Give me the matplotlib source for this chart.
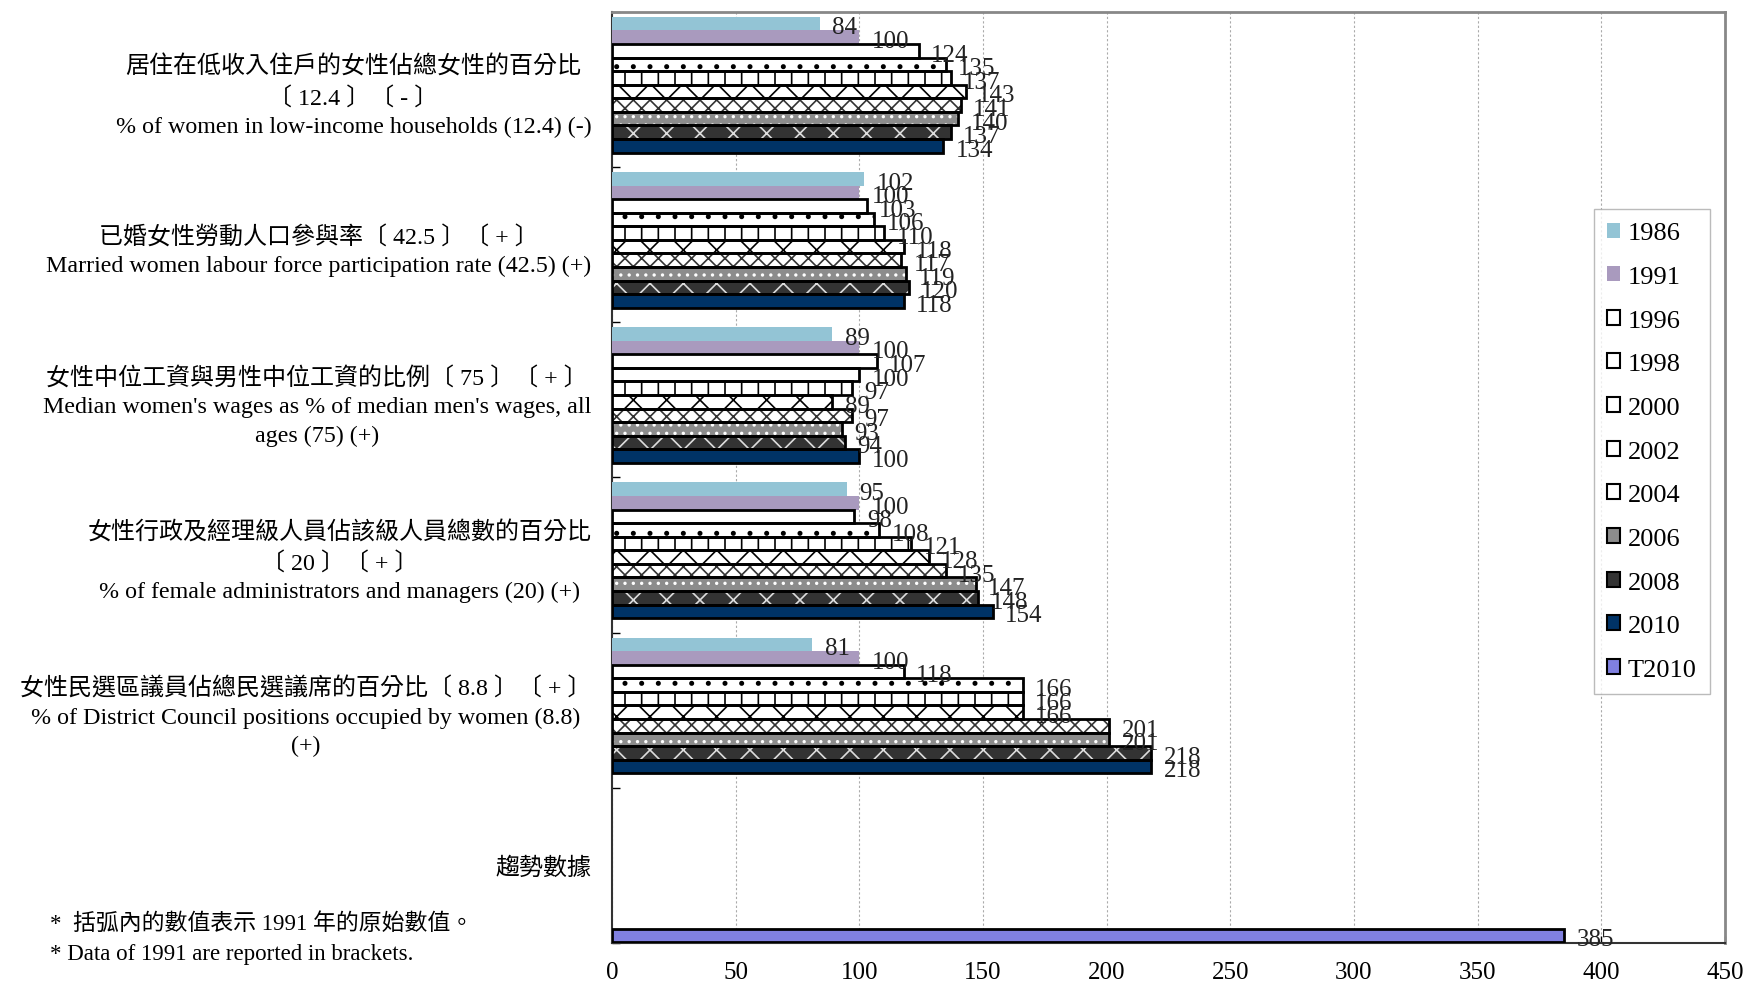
import matplotlib
matplotlib.use('Agg')
import matplotlib.pyplot as plt
import numpy as np

# ---------------- data ----------------
categories = [
    "居住在低收入住戶的女性佔總女性的百分比\n〔 12.4 〕〔 - 〕\n% of women in low-income households (12.4) (-)",
    "已婚女性勞動人口參與率〔 42.5 〕〔 + 〕\nMarried women labour force participation rate (42.5) (+)",
    "女性中位工資與男性中位工資的比例〔 75 〕〔 + 〕\nMedian women's wages as % of median men's wages, all\nages (75) (+)",
    "女性行政及經理級人員佔該級人員總數的百分比\n〔 20 〕〔 + 〕\n% of female administrators and managers (20) (+)",
    "女性民選區議員佔總民選議席的百分比〔 8.8 〕〔 + 〕\n% of District Council positions occupied by women (8.8)\n(+)",
    "趨勢數據",
]
series_names = ['1986', '1991', '1996', '1998', '2000', '2002', '2004',
                '2006', '2008', '2010', 'T2010']
nan = np.nan
v1986 = [84, 102, 89, 95, 81, nan]
v1991 = [100, 100, 100, 100, 100, nan]
v1996 = [124, 103, 107, 98, 118, nan]
v1998 = [135, 106, 100, 108, 166, nan]
v2000 = [137, 110, 97, 121, 166, nan]
v2002 = [143, 118, 89, 128, 166, nan]
v2004 = [141, 117, 97, 135, 201, nan]
v2006 = [140, 119, 93, 147, 201, nan]
v2008 = [137, 120, 94, 148, 218, nan]
v2010 = [134, 118, 100, 154, 218, nan]
vT2010 = [nan, nan, nan, nan, nan, 385]
values = [v1986, v1991, v1996, v1998, v2000, v2002, v2004, v2006, v2008,
          v2010, vT2010]
x_ticks = [0, 50, 100, 150, 200, 250, 300, 350, 400, 450]

# ---------------- styles ----------------
styles = [
    dict(fc='#93C4D5', hatch=None, hc=None, border=False),
    dict(fc='#A99ABE', hatch=None, hc=None, border=False),
    dict(fc='white', hatch=None, hc=None, border=True),
    dict(fc='white', hatch='.', hc='black', border=True),
    dict(fc='white', hatch='|', hc='black', border=True),
    dict(fc='white', hatch='x', hc='black', border=True),
    dict(fc='white', hatch='xx', hc='#333333', border=True),
    dict(fc='#8C8C8C', hatch='..', hc='white', border=True),
    dict(fc='#333333', hatch='x', hc='#DDDDDD', border=True),
    dict(fc='#003366', hatch=None, hc=None, border=True),
    dict(fc='#8080E0', hatch=None, hc=None, border=True),
]

FONT = ['Liberation Serif', 'Noto Sans CJK TC', 'DejaVu Sans']
plt.rcParams['font.family'] = FONT
plt.rcParams['hatch.linewidth'] = 1.2

fig = plt.figure(figsize=(17.44, 9.87), dpi=100)
ax = fig.add_axes([0.351, 0.0436, 0.638, 0.9434])

ncat = len(categories)
nser = len(series_names)
bar_h = 0.0875
top_off = 0.032
cat_pos = np.arange(ncat)

for j in range(nser):
    st = styles[j]
    ys = cat_pos - 0.5 + top_off + (j + 0.5) * bar_h
    vals = np.array(values[j], dtype=float)
    mask = ~np.isnan(vals)
    if st['hatch']:
        ax.barh(ys[mask], vals[mask], height=bar_h, color=st['fc'],
                edgecolor=st['hc'], hatch=st['hatch'], linewidth=0, zorder=3)
    else:
        ax.barh(ys[mask], vals[mask], height=bar_h, color=st['fc'],
                linewidth=0, zorder=3)
    if st['border']:
        ax.barh(ys[mask], vals[mask], height=bar_h, fill=False,
                edgecolor='black', linewidth=2.0, zorder=4)
    for y, v in zip(ys[mask], vals[mask]):
        ax.text(v + 5, y + 0.025, f"{int(v)}", ha='left', va='center',
                fontsize=18, color='#222222', zorder=6)
    # legend proxy
    ax.bar([0], [0], color=st['fc'],
           edgecolor='black' if st['border'] else st['fc'],
           linewidth=1.5 if st['border'] else 0,
           label=series_names[j])

ax.set_xlim(0, 450)
ax.set_ylim(ncat - 0.5, -0.5)
ax.set_xticks(x_ticks)
ax.set_xticklabels([str(t) for t in x_ticks], fontsize=18)
ax.tick_params(axis='x', direction='in', length=5, pad=13, width=1)

# y: major ticks at boundaries, labels at centers (minor)
ax.set_yticks(np.arange(ncat + 1) - 0.5)
ax.set_yticklabels([])
ax.tick_params(axis='y', which='major', direction='in', length=6, width=1)
ax.set_yticks(cat_pos, minor=True)
ax.set_yticklabels(categories, minor=True, fontsize=17.3)
ax.tick_params(axis='y', which='minor', length=0, pad=15)
for lab in ax.get_yticklabels(minor=True):
    lab.set_multialignment('center')
    lab.set_linespacing(1.45)

ax.grid(axis='x', color='#AAAAAA', linestyle=(0, (2, 2)), linewidth=0.8,
        zorder=0)
ax.set_axisbelow(True)

for s in ['top', 'right']:
    ax.spines[s].set_color('#888888')
    ax.spines[s].set_linewidth(2)
for s in ['left', 'bottom']:
    ax.spines[s].set_color('#333333')
    ax.spines[s].set_linewidth(1.5)

leg = ax.legend(loc='upper left', bbox_to_anchor=(0.882, 0.788), fontsize=19,
                frameon=True, fancybox=False, edgecolor='#AAAAAA',
                handlelength=0.5, handleheight=0.5, handletextpad=0.3,
                labelspacing=0.82, borderpad=0.5, borderaxespad=0)
leg.get_frame().set_linewidth(1.0)

fig.text(0.0287, 0.064, "*  括弧內的數值表示 1991 年的原始數值。", fontsize=16.5,
         ha='left', va='center')
fig.text(0.0287, 0.033, "* Data of 1991 are reported in brackets.", fontsize=16.5,
         ha='left', va='center')

fig.savefig('out.png', dpi=100)
